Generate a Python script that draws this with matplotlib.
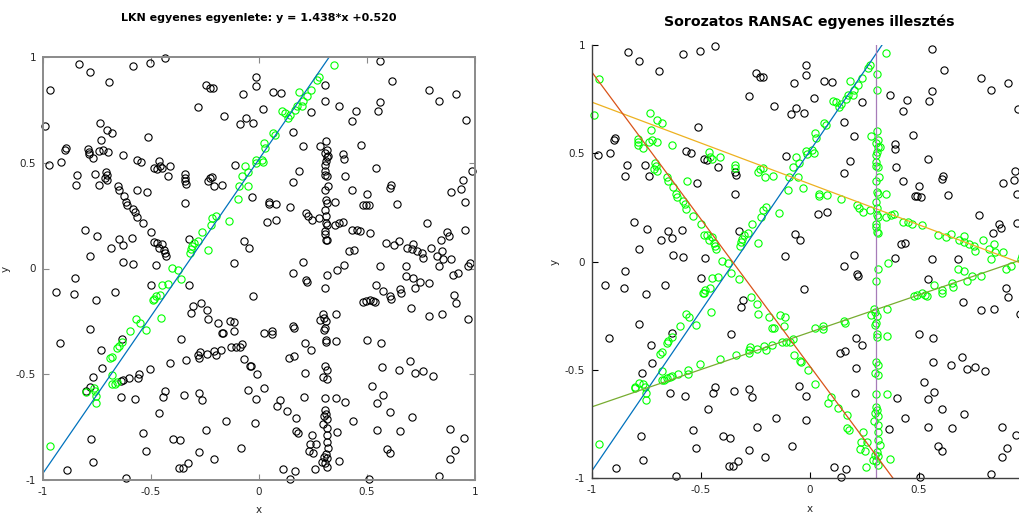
import numpy as np
import matplotlib
matplotlib.use("Agg")
import matplotlib.pyplot as plt

# ─────────────────────────────────────────────
# DATA
# ─────────────────────────────────────────────
# points that are LKN inliers (green on the left, green on the right too)
line_pts = [
    (-0.315, 0.090), (-0.321, 0.074), (-0.309, 0.106), (-0.300, 0.121), (-0.284, 0.131),
    (-0.266, 0.172), (-0.238, 0.087), (-0.216, 0.239), (-0.201, 0.250), (-0.222, 0.208),
    (-0.141, 0.224), (-0.099, 0.329), (-0.093, 0.389), (-0.077, 0.436), (-0.053, 0.389),
    (-0.065, 0.483), (-0.050, 0.455), (-0.015, 0.512), (-0.402, 0.003), (-0.373, -0.008),
    (0.349, 0.964), (0.276, 0.906), (0.270, 0.893), (0.239, 0.846), (0.221, 0.814),
    (0.205, 0.791), (0.187, 0.833), (0.177, 0.767), (0.198, 0.767), (0.167, 0.751),
    (0.136, 0.712), (0.120, 0.735), (0.105, 0.743), (0.144, 0.728), (0.074, 0.633),
    (0.066, 0.641), (0.023, 0.594), (0.028, 0.570), (0.012, 0.515), (0.020, 0.502),
    (-0.014, 0.499),
    (-0.966, -0.840), (-0.801, -0.585), (-0.765, -0.564), (-0.757, -0.577), (-0.754, -0.604),
    (-0.754, -0.638), (-0.680, -0.548), (-0.668, -0.544), (-0.657, -0.537), (-0.680, -0.505),
    (-0.688, -0.424), (-0.680, -0.418), (-0.657, -0.375), (-0.649, -0.367), (-0.634, -0.348),
    (-0.595, -0.296), (-0.569, -0.241), (-0.553, -0.257), (-0.522, -0.292), (-0.453, -0.233),
    (-0.491, -0.147), (-0.485, -0.143), (-0.479, -0.131), (-0.457, -0.123), (-0.448, -0.076),
    (-0.422, -0.071), (-0.363, -0.052),
]

# all the other points
other_pts = [
    (-0.835, 0.969), (-0.782, 0.928), (-0.969, 0.843), (-0.694, 0.882), (-0.584, 0.959),
    (-0.505, 0.972), (-0.433, 0.995), (-0.991, 0.676), (-0.974, 0.490), (-0.918, 0.502),
    (-0.899, 0.562), (-0.895, 0.569), (-0.734, 0.688), (-0.703, 0.654), (-0.680, 0.641),
    (-0.731, 0.609), (-0.790, 0.565), (-0.787, 0.552), (-0.789, 0.540), (-0.767, 0.523),
    (-0.740, 0.554), (-0.723, 0.562), (-0.701, 0.550), (-0.841, 0.444), (-0.849, 0.394),
    (-0.758, 0.447), (-0.740, 0.397), (-0.710, 0.455), (-0.706, 0.440), (-0.713, 0.427),
    (-0.703, 0.420), (-0.631, 0.539),
    (-0.654, 0.389), (-0.649, 0.373), (-0.626, 0.345), (-0.614, 0.313), (-0.611, 0.299),
    (-0.583, 0.282), (-0.575, 0.266), (-0.566, 0.244), (-0.538, 0.213),
    (-0.566, 0.512), (-0.544, 0.502), (-0.564, 0.373), (-0.519, 0.361), (-0.513, 0.620),
    (-0.485, 0.476), (-0.464, 0.507), (-0.457, 0.483), (-0.448, 0.476), (-0.472, 0.471),
    (-0.412, 0.483), (-0.423, 0.436),
    (-0.343, 0.445), (-0.343, 0.430), (-0.343, 0.414), (-0.340, 0.400), (-0.343, 0.310),
    (-0.281, 0.764), (-0.247, 0.869), (-0.229, 0.854), (-0.213, 0.852), (-0.164, 0.720),
    (-0.073, 0.825), (-0.015, 0.906), (-0.015, 0.861), (-0.088, 0.682), (-0.062, 0.710),
    (-0.028, 0.688), (-0.238, 0.413), (-0.226, 0.428), (-0.216, 0.433), (-0.207, 0.392),
    (-0.170, 0.397), (-0.110, 0.487), (-0.031, 0.339), (-0.068, 0.129), (-0.046, 0.098),
    (-0.114, 0.024), (-0.807, 0.181), (-0.748, 0.153), (-0.782, 0.058), (-0.683, 0.098),
    (-0.649, 0.140), (-0.631, 0.109), (-0.588, 0.146), (-0.628, 0.030), (-0.583, 0.020),
    (-0.499, 0.172), (-0.485, 0.124), (-0.471, 0.121), (-0.448, 0.115), (-0.464, 0.098),
    (-0.440, 0.087), (-0.433, 0.074), (-0.430, 0.058), (-0.479, 0.016), (-0.325, 0.140),
    (-0.850, -0.044),
    (0.560, 0.980), (0.616, 0.885), (0.066, 0.835), (0.103, 0.830), (0.307, 0.866),
    (0.307, 0.794), (0.369, 0.767), (0.449, 0.746), (0.560, 0.786), (0.549, 0.743),
    (0.429, 0.696), (0.239, 0.739), (0.020, 0.754), (0.159, 0.644), (0.789, 0.846),
    (0.832, 0.794), (0.912, 0.825), (0.958, 0.704), (0.202, 0.578),
    (0.310, 0.602), (0.282, 0.578), (0.313, 0.562), (0.304, 0.546), (0.316, 0.528),
    (0.321, 0.530), (0.310, 0.507), (0.304, 0.491), (0.306, 0.460), (0.313, 0.436),
    (0.306, 0.443), (0.319, 0.389), (0.304, 0.373), (0.310, 0.323), (0.316, 0.310),
    (0.306, 0.276), (0.310, 0.247), (0.310, 0.216), (0.316, 0.208), (0.306, 0.176),
    (0.304, 0.161), (0.310, 0.137), (0.316, 0.134),
    (0.390, 0.543), (0.393, 0.518), (0.474, 0.584), (0.187, 0.463), (0.156, 0.408),
    (0.398, 0.439), (0.429, 0.373), (0.350, 0.313), (0.542, 0.476), (0.611, 0.397),
    (0.606, 0.381), (0.502, 0.350), (0.483, 0.302), (0.495, 0.301), (0.511, 0.299),
    (0.637, 0.307), (0.887, 0.361), (0.937, 0.376), (0.943, 0.420), (0.988, 0.460),
    (0.954, 0.313), (0.954, 0.180), (0.779, 0.216), (0.869, 0.172), (0.881, 0.156),
    (0.843, 0.134), (0.045, 0.313), (0.079, 0.307), (0.045, 0.305), (0.144, 0.290),
    (0.039, 0.219), (0.079, 0.231),
    (0.218, 0.263), (0.228, 0.247), (0.244, 0.231), (0.279, 0.239), (0.352, 0.208),
    (0.372, 0.216), (0.387, 0.219), (0.429, 0.181), (0.452, 0.181), (0.468, 0.176),
    (0.514, 0.168), (0.588, 0.121), (0.625, 0.113), (0.650, 0.129), (0.684, 0.098),
    (0.711, 0.118), (0.707, 0.090), (0.730, 0.082), (0.753, 0.074), (0.758, 0.050),
    (0.795, 0.098), (0.823, 0.058), (0.846, 0.082), (0.853, 0.043), (0.887, 0.046),
    (0.835, 0.014), (0.969, 0.014), (0.977, 0.024), (0.418, 0.082), (0.440, 0.087),
    (0.560, 0.014), (0.681, 0.014), (0.205, 0.030), (0.360, -0.005), (0.394, 0.017),
    (0.159, -0.020), (0.316, -0.033), (0.900, -0.033), (0.923, -0.020),
    (-0.940, -0.110), (-0.855, -0.120), (-0.754, -0.150), (-0.665, -0.110), (-0.498, -0.076),
    (-0.325, -0.080), (-0.782, -0.288), (-0.923, -0.351), (-0.730, -0.386), (-0.634, -0.331),
    (-0.726, -0.470), (-0.770, -0.512), (-0.801, -0.580), (-0.782, -0.560), (-0.631, -0.528),
    (-0.640, -0.533), (-0.603, -0.519), (-0.560, -0.517), (-0.557, -0.501), (-0.505, -0.474),
    (-0.411, -0.449), (-0.340, -0.433), (-0.362, -0.333), (-0.281, -0.407), (-0.278, -0.422),
    (-0.274, -0.396), (-0.240, -0.402), (-0.209, -0.391), (-0.201, -0.407), (-0.175, -0.386),
    (-0.128, -0.370), (-0.108, -0.370), (-0.090, -0.370), (-0.077, -0.359),
    (-0.317, -0.210), (-0.306, -0.178), (-0.270, -0.162), (-0.240, -0.197), (-0.236, -0.241),
    (-0.189, -0.257), (-0.173, -0.304), (-0.165, -0.307), (-0.136, -0.246), (-0.114, -0.254),
    (-0.116, -0.296), (-0.070, -0.430), (-0.043, -0.459), (-0.039, -0.462), (-0.009, -0.501),
    (-0.028, -0.128), (-0.050, -0.575), (-0.015, -0.619), (-0.019, -0.730), (-0.155, -0.722),
    (-0.244, -0.764), (-0.278, -0.588), (-0.263, -0.623), (-0.346, -0.596), (-0.436, -0.580),
    (-0.445, -0.607), (-0.572, -0.619), (-0.641, -0.607), (-0.465, -0.682), (-0.535, -0.777),
    (-0.524, -0.862), (-0.397, -0.804), (-0.366, -0.813), (-0.278, -0.868), (-0.207, -0.903),
    (-0.082, -0.851), (-0.371, -0.942), (-0.352, -0.942), (-0.331, -0.919), (-0.615, -0.990),
    (-0.889, -0.953), (-0.768, -0.914), (-0.776, -0.805),
    (0.218, -0.055), (0.221, -0.065), (0.306, -0.091), (0.542, -0.080), (0.573, -0.107),
    (0.606, -0.131), (0.610, -0.143), (0.653, -0.099), (0.659, -0.115), (0.722, -0.091),
    (0.711, -0.044), (0.745, -0.065), (0.789, -0.068), (0.681, -0.036), (0.480, -0.159),
    (0.495, -0.154), (0.514, -0.147), (0.529, -0.154), (0.537, -0.159), (0.702, -0.186),
    (0.789, -0.225), (0.846, -0.217), (0.903, -0.123), (0.912, -0.162), (0.968, -0.241),
    (0.295, -0.217), (0.301, -0.233), (0.282, -0.244), (0.310, -0.249), (0.306, -0.281),
    (0.301, -0.292), (0.310, -0.336), (0.310, -0.348), (0.306, -0.462), (0.313, -0.478),
    (0.298, -0.512), (0.316, -0.522), (0.306, -0.611), (0.306, -0.670), (0.310, -0.686),
    (0.301, -0.698), (0.316, -0.711), (0.295, -0.737), (0.316, -0.753), (0.316, -0.785),
    (0.316, -0.821), (0.321, -0.848), (0.310, -0.879), (0.301, -0.891), (0.313, -0.895),
    (0.306, -0.919), (0.313, -0.938),
    (0.356, -0.217), (0.159, -0.273), (0.162, -0.281), (0.213, -0.351), (0.242, -0.383),
    (0.140, -0.422), (0.162, -0.414), (0.023, -0.307), (0.059, -0.296), (0.059, -0.312),
    (0.023, -0.564), (0.082, -0.651), (0.097, -0.623), (0.131, -0.675), (0.171, -0.706),
    (0.171, -0.769), (0.182, -0.777), (0.244, -0.785), (0.236, -0.832), (0.264, -0.832),
    (0.233, -0.864), (0.252, -0.872), (0.290, -0.916), (0.259, -0.947), (0.113, -0.947),
    (0.167, -0.958), (0.144, -0.993), (0.213, -0.493), (0.208, -0.607), (0.356, -0.344),
    (0.356, -0.611), (0.400, -0.629), (0.363, -0.774), (0.369, -0.911), (0.437, -0.722),
    (0.508, -0.995), (0.502, -0.336), (0.566, -0.351), (0.568, -0.465), (0.523, -0.556),
    (0.573, -0.600), (0.545, -0.635), (0.606, -0.678), (0.545, -0.764), (0.591, -0.853),
    (0.606, -0.872), (0.653, -0.769), (0.708, -0.701), (0.650, -0.478), (0.699, -0.438),
    (0.724, -0.496), (0.761, -0.485), (0.804, -0.506), (0.832, -0.979), (0.884, -0.761),
    (0.949, -0.801), (0.907, -0.859), (0.884, -0.903),
]

# fitted lines (slope, intercept) as drawn
lkn_line = (1.485, 0.517)
ransac_lines = [(1.475, 0.510), (-0.377, 0.359), (-1.355, -0.481), (0.344, -0.326)]
ransac_vert_x = 0.305
ransac_thr = 0.056

left_title = "LKN egyenes egyenlete: y = 1.438*x +0.520"
right_title = "Sorozatos RANSAC egyenes illesztés"
ticks = [-1, -0.5, 0, 0.5, 1]
tick_labels = ["-1", "-0.5", "0", "0.5", "1"]

line_pts = np.array(line_pts)
other_pts = np.array(other_pts)

# RANSAC inliers among the other points: close to any of lines 2..4 or the vertical
ox, oy = other_pts[:, 0], other_pts[:, 1]
near = np.abs(ox - ransac_vert_x) < ransac_thr
for (m, b) in ransac_lines[1:]:
    d = np.abs(m * ox - oy + b) / np.sqrt(m**2 + 1)
    near |= d < ransac_thr

GREEN = '#00ff00'
LINE_COLS = ['#0072BD', '#EDB120', '#D95319', '#77AC30']
PURPLE = '#a77bb8'

fig = plt.figure(figsize=(10.2, 5.15), dpi=100)
W, H = 1020, 515

mk = dict(ls='none', marker='o', mfc='none', ms=5.2, mew=0.8, clip_on=False)


def style_axes(ax, box, nx):
    ax.set_xlim(-1, 1)
    ax.set_ylim(-1, 1)
    ax.set_xticks(ticks[:nx])
    ax.set_yticks(ticks)
    ax.set_xticklabels(tick_labels[:nx])
    ax.set_yticklabels(tick_labels)
    ax.tick_params(direction='in', length=4, labelsize=7.5, labelcolor='#262626',
                   top=box, right=box, pad=5)
    ax.set_xlabel("x", fontsize=7.5, color='#262626', labelpad=6)
    ax.set_ylabel("y", fontsize=7.5, color='#262626', labelpad=4)


# ─────────────────────────────────────────────
# LEFT — least squares line
# ─────────────────────────────────────────────
ax1 = fig.add_axes([43 / W, 1 - 480 / H, 432 / W, 423 / H])
ax1.plot(other_pts[:, 0], other_pts[:, 1], mec='black', **mk)
ax1.plot(line_pts[:, 0], line_pts[:, 1], mec=GREEN, **mk)
xx = np.array([-1.0, 1.0])
ax1.plot(xx, lkn_line[0] * xx + lkn_line[1], color=LINE_COLS[0], lw=0.9)
style_axes(ax1, True, 5)
for s in ax1.spines.values():
    s.set_color('#8a8a8a')
    s.set_linewidth(1.4)
ax1.tick_params(colors='#8a8a8a', labelcolor='#262626')
fig.text(259 / W, 1 - 18 / H, left_title, ha='center', va='center',
         fontsize=8, fontweight='bold')

# ─────────────────────────────────────────────
# RIGHT — sequential RANSAC (axes runs past the right edge, as in the original)
# ─────────────────────────────────────────────
ax2 = fig.add_axes([592 / W, 1 - 478.3 / H, 435.4 / W, 433.3 / H])
ax2.plot(ox[~near], oy[~near], mec='black', **mk)
ax2.plot(ox[near], oy[near], mec=GREEN, **mk)
ax2.plot(line_pts[:, 0], line_pts[:, 1], mec=GREEN, **mk)
for (m, b), c in zip(ransac_lines, LINE_COLS):
    ax2.plot(xx, m * xx + b, color=c, lw=0.9)
ax2.plot([ransac_vert_x, ransac_vert_x], [-1, 1], color=PURPLE, lw=0.9)
style_axes(ax2, False, 4)
ax2.spines['top'].set_visible(False)
ax2.spines['right'].set_visible(False)
for s in ['left', 'bottom']:
    ax2.spines[s].set_color('#404040')
    ax2.spines[s].set_linewidth(1.0)
fig.text(809 / W, 1 - 22 / H, right_title, ha='center', va='center',
         fontsize=10.2, fontweight='bold')

fig.savefig("out.png", dpi=100)
